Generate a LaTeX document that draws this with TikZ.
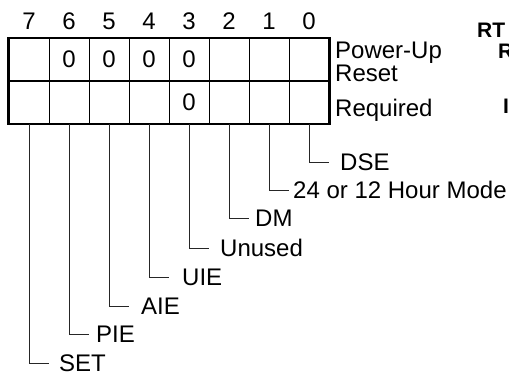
\documentclass[tikz,border=0pt]{standalone}
\usepackage{fontspec}
\setmainfont{Liberation Sans}
\usetikzlibrary{positioning}
\tikzset{
  cell/.style={draw=black, line width=1pt, minimum width=40pt, minimum height=42pt, inner sep=0pt, font=\fontsize{24}{26}\selectfont},
  bitnum/.style={anchor=base, inner sep=0pt, font=\fontsize{24}{26}\selectfont},
  side/.style={anchor=base west, inner sep=0pt, font=\fontsize{24}{26}\selectfont},
  field/.style={anchor=west, inner sep=0pt, text height=17pt, text depth=0pt, font=\fontsize{24}{26}\selectfont},
  frag/.style={anchor=base west, inner sep=0pt, font=\fontsize{21}{24}\selectfont\bfseries},
  leader/.style={line width=1pt, draw=black!85},
  frame/.style={line width=2.8pt}
}

\begin{document}
\begin{tikzpicture}[x=1pt, y=-1pt]
  \useasboundingbox (0,0) rectangle (509,376);

  % register cells, two rows
  \foreach \b/\t/\u in {7//, 6/0/, 5/0/, 4/0/, 3/0/0, 2//, 1//, 0//} {
    \node[cell] (top\b) at ({29+40*(7-\b)},59.5) {\t};
    \node[cell, below=0pt of top\b] (bot\b) {\u};
    \node[bitnum] (num\b) at ({29+40*(7-\b)},29) {\b};
  }
  \draw[frame] (top7.north west) rectangle (bot0.south east);
  \draw[frame] (top7.south west) -- (top0.south east);

  \node[side] (pwr) at (335,58) {Power-Up};
  \node[side] (rst) at (335,81) {Reset};
  \node[side] (req) at (335,116) {Required};

  % bit names
  \foreach \b/\y/\g/\name in {0/162/11/DSE, 1/190/4/24 or 12 Hour Mode, 2/218/6/DM,
      3/248/11/Unused, 4/277/13/UIE, 5/306/12/AIE, 6/334/7/PIE, 7/363/10/SET} {
    \coordinate (tip\b) at ({49+40*(7-\b)},\y);
    \node[field, right=\g pt of tip\b] (lab\b) {\name};
    \draw[leader] (bot\b.south) |- (tip\b);
  }

  % clipped heading at right edge
  \node[frag] (rt) at (477,37) {RT};
  \node[frag] (rr) at (498,58) {R};
  \node[frag] (ri) at (503,113) {I};
\end{tikzpicture}
\end{document}
